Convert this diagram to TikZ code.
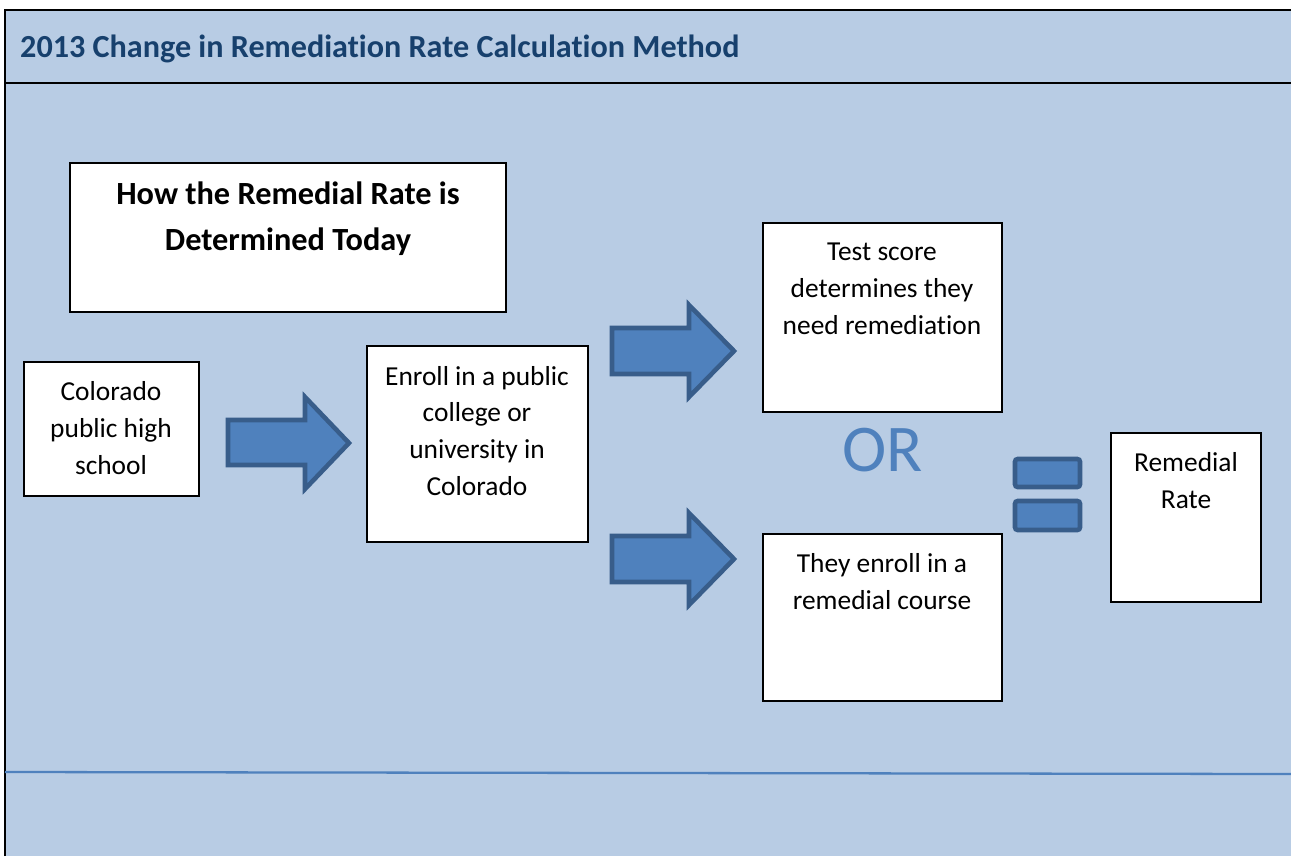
\documentclass[tikz,border=0pt]{standalone}
\usepackage{fontspec}
\setmainfont{Carlito}[Ligatures=NoCommon]
\definecolor{bgblue}{HTML}{B8CCE4}
\definecolor{accent}{HTML}{4F81BD}
\definecolor{accentdark}{HTML}{385D8A}
\definecolor{titleblue}{HTML}{17406D}
\begin{document}
\begin{tikzpicture}[x=0.02cm,y=-0.02cm,
  box/.style={draw=black,line width=0.9pt,fill=white},
  btext/.style={align=center,font=\fontsize{15.6}{21}\selectfont},
  fat/.style={fill=accent,draw=accentdark,line width=2.6pt,line join=miter},
  eqbar/.style={fill=accent,draw=accentdark,line width=2.6pt,rounded corners=1.5pt}]
\useasboundingbox (0,0) rectangle (1291,856);
% background
\fill[bgblue] (5,10) rectangle (1291,856);
\draw[line width=1.4pt] (5,856) -- (5,10) -- (1291,10);
\draw[line width=1.4pt] (5,83) -- (1291,83);
\node[anchor=west,text=titleblue,font=\fontsize{18.3}{22}\selectfont\bfseries] (title) at (14,49) {2013 Change in Remediation Rate Calculation Method};
% header box
\draw[box] (70,163) rectangle (506,312);
\node[align=center,font=\fontsize{18.4}{26}\selectfont\bfseries] (head) at (288,219) {How the Remedial Rate is\\Determined Today};
% boxes
\draw[box] (24,362) rectangle (199,496);
\node[btext] (col) at (111,428) {Colorado\\public high\\school};
\draw[box] (367,346) rectangle (588,542);
\node[btext] (enr) at (477,431) {Enroll in a public\\college or\\university in\\Colorado};
\draw[box] (763,223) rectangle (1002,412);
\node[btext] (test) at (882,289) {Test score\\determines they\\need remediation};
\draw[box] (763,534) rectangle (1002,701);
\node[btext] (they) at (882,582) {They enroll in a\\remedial course};
\draw[box] (1111,433) rectangle (1261,602);
\node[btext] (rr) at (1186,481) {Remedial\\Rate};
% OR
\node[text=accent,font=\fontsize{38}{44}\selectfont] (or) at (883,450) {OR};
% arrows
\draw[fat] (228,420) -- (305,420) -- (305,397) -- (349,443) -- (305,489) -- (305,465) -- (228,465) -- cycle;
\draw[fat] (612,328) -- (689,328) -- (689,305) -- (734,351) -- (689,397) -- (689,374) -- (612,374) -- cycle;
\draw[fat] (612,536) -- (689,536) -- (689,513) -- (734,559) -- (689,605) -- (689,582) -- (612,582) -- cycle;
% equals
\draw[eqbar] (1015,459) rectangle (1080,487);
\draw[eqbar] (1015,501) rectangle (1080,530);
% bottom line
\draw[accent,line width=1.3pt] (5,772) -- (1291,774);
\end{tikzpicture}
\end{document}
